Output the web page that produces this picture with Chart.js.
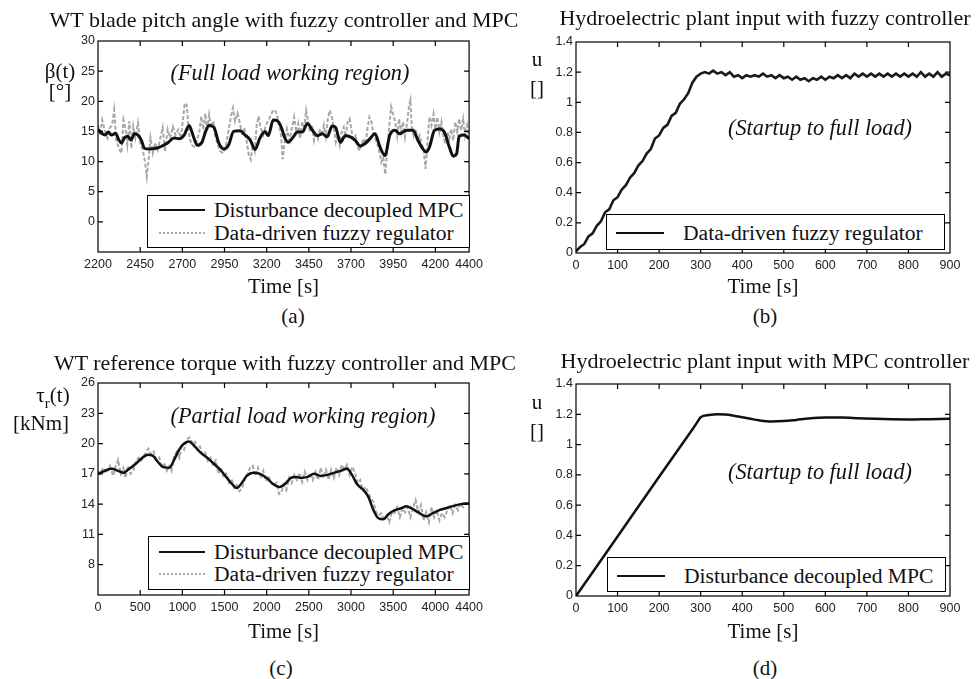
<!DOCTYPE html>
<html>
<head>
<meta charset="utf-8">
<title>WT and hydro plant controllers</title>
<script src="https://cdn.jsdelivr.net/npm/chart.js@4.4.0/dist/chart.umd.min.js"></script>
<style>
  html, body { margin: 0; padding: 0; background: #fff; }
  #page { position: relative; width: 976px; height: 679px; overflow: hidden; font-family: "Liberation Serif", "Times New Roman", serif; color: #111; }
  canvas { position: absolute; }
  .txt { position: absolute; transform: translate(-50%, -50%); white-space: nowrap; font-size: 21px; line-height: 1; z-index: 2; }
  .ttl { font-size: 22px; }
  .ital { font-style: italic; font-size: 22.3px; }
  .legend { position: absolute; border: 1px solid #000; background: #fff; box-sizing: border-box; z-index: 3; }
  .row { position: absolute; height: 24px; display: flex; align-items: center; font-size: 21.6px; white-space: nowrap; }
  .solid { display: inline-block; width: 46px; height: 0; border-top: 2.5px solid #111; }
  .dotted { display: inline-block; width: 46px; height: 0; border-top: 2px dotted #aaa; }
</style>
</head>
<body>
<div id="page">
  <canvas id="cA" width="488" height="300" style="left:0;top:0"></canvas>
  <canvas id="cB" width="488" height="300" style="left:488px;top:0"></canvas>
  <canvas id="cC" width="488" height="305" style="left:0;top:340px"></canvas>
  <canvas id="cD" width="488" height="305" style="left:488px;top:340px"></canvas>

  <!-- titles -->
  <div class="txt ttl" style="left:284px;top:20px">WT blade pitch angle with fuzzy controller and MPC</div>
  <div class="txt ttl" style="left:765px;top:18px">Hydroelectric plant input with fuzzy controller</div>
  <div class="txt ttl" style="left:285px;top:363px">WT reference torque with fuzzy controller and MPC</div>
  <div class="txt ttl" style="left:765px;top:361px">Hydroelectric plant input with MPC controller</div>

  <!-- y labels -->
  <div class="txt" style="left:60px;top:71px">β(t)</div>
  <div class="txt" style="left:60px;top:91px">[°]</div>
  <div class="txt" style="left:537px;top:59px">u</div>
  <div class="txt" style="left:537px;top:88px">[]</div>
  <div class="txt" style="left:53px;top:398px">τ<sub style="font-size:15px">r</sub>(t)</div>
  <div class="txt" style="left:41px;top:423px">[kNm]</div>
  <div class="txt" style="left:537px;top:402px">u</div>
  <div class="txt" style="left:537px;top:431px">[]</div>

  <!-- annotations -->
  <div class="txt ital" style="left:290px;top:73px">(Full load working region)</div>
  <div class="txt ital" style="left:820px;top:128px">(Startup to full load)</div>
  <div class="txt ital" style="left:303px;top:416px">(Partial load working region)</div>
  <div class="txt ital" style="left:820px;top:472px">(Startup to full load)</div>

  <!-- captions -->
  <div class="txt" style="left:293px;top:316px">(a)</div>
  <div class="txt" style="left:765px;top:316px">(b)</div>
  <div class="txt" style="left:281px;top:668px">(c)</div>
  <div class="txt" style="left:765px;top:668px">(d)</div>

  <!-- legends -->
  <div class="legend" style="left:147px;top:195px;width:323px;height:53px">
    <div class="row" style="left:11px;top:2px"><span class="solid"></span><span style="margin-left:9px">Disturbance decoupled MPC</span></div>
    <div class="row" style="left:11px;top:25px"><span class="dotted"></span><span style="margin-left:9px">Data-driven fuzzy regulator</span></div>
  </div>
  <div class="legend" style="left:606px;top:214px;width:339px;height:36px">
    <div class="row" style="left:9px;top:6px"><span class="solid" style="width:48px"></span><span style="margin-left:19px">Data-driven fuzzy regulator</span></div>
  </div>
  <div class="legend" style="left:148px;top:536px;width:322px;height:54px">
    <div class="row" style="left:10px;top:3px"><span class="solid"></span><span style="margin-left:9px">Disturbance decoupled MPC</span></div>
    <div class="row" style="left:10px;top:25px"><span class="dotted"></span><span style="margin-left:9px">Data-driven fuzzy regulator</span></div>
  </div>
  <div class="legend" style="left:607px;top:557px;width:339px;height:35px">
    <div class="row" style="left:9px;top:6px"><span class="solid" style="width:48px"></span><span style="margin-left:19px">Disturbance decoupled MPC</span></div>
  </div>
</div>

<script>
// (a) blade pitch angle, full load region
const pitchMpcTime = [2200,2222,2241,2261,2280,2304,2323,2339,2358,2378,2394,2417,2437,2456,2476,2505,2544,2574,2613,2652,2681,2711,2740,2765,2789,2818,2838,2857,2887,2916,2945,2975,3004,3043,3072,3102,3131,3160,3190,3209,3239,3262,3288,
  3305,3328,3353,3383,3412,3441,3471,3500,3530,3559,3588,3608,3637,3666,3696,3725,3754,3784,3813,3842,3872,3901,3930,3960,3989,4028,4067,4097,4126,4146,4165,4195,4224,4253,4283,4306,4326,4341,4371,4400];
const pitchMpc = [15.3,14.7,14.4,14.9,14.4,14.7,13.6,13.1,14.0,14.2,13.6,14.6,14.4,13.6,12.2,12.1,12.2,12.5,13.1,13.9,13.8,14.4,16.0,14.2,12.7,13.3,15.0,16.0,15.7,13.1,12.1,12.8,15.0,15.1,14.4,13.6,12.0,13.9,15.0,14.3,16.9,16.8,15.6,
  14.1,13.2,13.9,14.9,14.9,16.3,15.2,14.3,14.6,14.1,15.9,15.7,13.2,14.3,14.1,13.5,12.6,13.0,13.8,14.6,12.4,11.0,14.4,15.2,14.6,15.2,15.2,13.5,12.1,11.6,12.4,15.2,15.4,14.9,12.4,10.9,11.3,14.2,14.4,13.8];

const pitchFuzzyTime = [2200,2212,2225,2241,2257,2270,2284,2296,2308,2323,2339,2351,2362,2374,2386,2398,2409,2421,2437,2452,
  2466,2480,2489,2501,2511,2525,2538,2554,2570,2583,2597,2613,2628,2644,2660,2675,2691,2703,2714,2726,
  2740,2754,2769,2785,2801,2812,2824,2836,2847,2859,2871,2883,2894,2910,2926,2941,2957,2973,2988,3000,
  3012,3027,3043,3055,3067,3082,3094,3106,3117,3129,3141,3153,3164,3180,3196,3211,3227,3239,3254,3270,
  3285,3295,3305,3320,3334,3348,3363,3375,3387,3398,3410,3422,3434,3445,3457,3469,3481,3492,3504,3516,
  3528,3539,3551,3563,3574,3586,3598,3610,3621,3633,3645,3657,3668,3680,3692,3704,3715,3727,3739,3751,
  3762,3774,3786,3797,3809,3821,3833,3844,3856,3868,3880,3891,3903,3915,3927,3938,3950,3962,3974,3985,
  3997,4009,4020,4032,4044,4052,4060,4071,4083,4095,4107,4118,4130,4142,4153,4165,4177,4189,4200,4212,
  4224,4236,4247,4259,4271,4283,4294,4306,4318,4330,4341,4353,4365,4376,4388,4400];
const pitchFuzzy = [16.1,14.4,16.9,15.0,13.9,15.6,16.1,18.6,13.6,12.2,11.4,16.9,15.6,12.8,16.7,12.2,15.8,13.9,16.4,12.8,
  11.9,9.7,7.5,10.6,13.9,11.4,13.1,11.9,13.9,15.6,11.7,15.3,13.9,15.8,14.4,15.3,13.9,16.7,19.7,19.4,
  14.4,12.8,12.5,13.3,15.0,17.5,15.3,18.0,15.0,17.8,15.6,16.7,14.4,12.8,11.7,11.4,12.5,15.0,17.5,18.9,
  16.7,18.0,16.1,14.4,15.6,13.3,11.1,10.3,12.8,11.7,16.1,17.5,15.6,14.4,16.1,16.9,17.8,18.6,18.3,16.7,
  14.3,10.4,12.9,15.4,13.5,15.4,17.4,14.9,16.3,13.8,16.6,15.4,18.5,16.8,14.9,16.0,13.5,14.9,13.8,15.4,
  14.3,16.0,14.1,17.1,18.5,17.4,15.4,13.2,14.3,12.7,14.9,15.7,14.1,16.6,17.1,14.9,13.8,14.3,12.4,11.8,
  12.7,13.8,12.9,15.4,17.4,16.6,14.6,13.8,12.9,11.6,9.9,10.7,7.9,12.1,16.0,19.1,17.9,16.6,14.3,17.1,
  14.9,16.6,14.1,16.3,19.3,20.2,16.0,14.3,15.4,13.5,14.3,12.9,12.1,8.8,13.2,17.4,16.0,17.9,15.4,17.4,
  14.9,16.6,14.3,12.9,14.9,13.8,15.4,13.5,16.6,14.9,17.1,15.2,17.1,14.3,16.0,13.8];

const pitchXTicks = [2200,2450,2700,2950,3200,3450,3700,3950,4200,4400];
const pitchYTicks = [0,5,10,15,20,25,30];

// (b) hydro input with fuzzy controller
const hydroFuzzyTime = [0,10,20,30,40,50,60,70,80,90,100,110,120,130,140,150,160,170,180,190,200,210,220,230,240,250,260,270,280,290,
  300,310,320,330,340,350,360,370,380,390,400,410,420,430,440,450,460,470,480,490,500,510,520,530,540,550,560,570,580,590,
  600,610,620,630,640,650,660,670,680,690,700,710,720,730,740,750,760,770,780,790,800,810,820,830,840,850,860,870,880,890,900];
const hydroFuzzy = [0.01,0.04,0.06,0.11,0.13,0.18,0.21,0.27,0.29,0.35,0.37,0.42,0.45,0.50,0.53,0.58,0.61,0.66,0.69,0.76,0.78,0.83,0.85,0.91,0.93,0.99,1.02,1.06,1.13,1.17,
  1.19,1.20,1.19,1.21,1.19,1.20,1.18,1.20,1.17,1.18,1.16,1.18,1.17,1.18,1.17,1.19,1.17,1.18,1.16,1.18,1.16,1.17,1.15,1.17,1.15,1.16,1.14,1.16,1.15,1.17,
  1.15,1.17,1.16,1.18,1.16,1.18,1.16,1.19,1.17,1.19,1.17,1.19,1.17,1.19,1.17,1.19,1.17,1.19,1.17,1.19,1.17,1.19,1.17,1.20,1.17,1.19,1.17,1.20,1.17,1.19,1.18];

const hydroXTicks = [0,100,200,300,400,500,600,700,800,900];
const hydroYTicks = [0,0.2,0.4,0.6,0.8,1,1.2,1.4];

// (c) reference torque, partial load region
const torqueMpcTime = [0,82,160,238,297,356,434,512,590,649,708,767,845,903,962,1021,1079,1138,1216,1295,1373,1451,1529,1588,1647,1705,1764,1842,1920,1999,2077,2155,
  2229,2288,2347,2405,2484,2562,2640,2718,2796,2875,2953,3011,3070,3148,3207,3266,3324,3383,3442,3520,3598,3657,3715,3794,3891,3970,4048,4126,4204,4302,4400];
const torqueMpc = [17.0,17.3,17.5,17.3,17.1,17.4,17.9,18.5,18.9,18.8,18.2,17.7,17.6,18.4,19.4,20.0,20.2,19.8,19.1,18.6,18.0,17.4,16.6,16.0,15.6,16.1,16.8,17.1,17.0,16.6,16.0,15.7,
  16.1,16.6,16.7,16.6,16.7,17.0,16.8,16.9,17.1,17.3,17.5,16.9,16.0,15.4,14.7,13.4,12.6,12.5,13.0,13.4,13.6,13.8,13.6,13.2,12.8,13.1,13.4,13.6,13.8,14.0,14.1];

const torqueFuzzyTime = [0,23,62,102,141,180,207,238,270,301,325,356,387,418,450,481,512,544,575,598,
  630,661,692,727,755,786,817,849,872,903,935,966,990,1021,1052,1083,1115,1146,1177,1208,
  1240,1271,1302,1334,1365,1396,1427,1459,1490,1521,1553,1584,1615,1647,1678,1709,1740,1772,1803,1834,
  1865,1897,1928,1959,1991,2022,2053,2084,2116,2147,
  2171,2202,2233,2265,2296,2327,2358,2390,2421,2452,2484,2515,2546,2577,2609,2640,2671,2703,2734,2765,
  2796,2828,2859,2890,2921,2953,2984,3015,3047,3078,3109,3140,3172,3203,3234,3266,3297,3328,3360,3391,
  3422,3453,3485,3516,3547,3579,3610,3641,3672,3704,3735,3766,3798,3829,3860,3891,3923,3954,3985,4017,
  4048,4079,4110,4142,4173,4204,4236,4267,4298,4329,4361,4400];
const torqueFuzzy = [17.3,17.0,17.6,17.1,17.8,16.8,17.7,18.4,17.0,17.6,16.6,17.8,17.0,17.3,18.3,18.6,18.3,18.8,19.2,19.5,
  18.9,19.2,18.4,18.6,17.6,18.1,17.3,17.8,17.3,18.8,19.2,18.6,19.7,19.4,20.4,20.6,20.1,20.3,19.4,19.7,
  18.9,19.1,18.3,18.6,17.8,18.3,17.0,17.6,16.6,17.0,16.1,16.5,15.6,15.9,15.3,15.6,16.5,17.0,17.6,17.8,
  16.8,17.6,16.6,17.3,16.3,16.8,16.1,15.8,16.1,15.0,
  15.1,15.9,15.4,16.6,16.1,16.9,16.4,17.1,16.2,17.2,16.4,17.1,16.4,17.2,16.4,17.6,16.6,17.4,16.4,17.4,
  16.6,17.6,16.9,17.9,17.4,17.9,16.9,17.7,17.1,16.1,16.4,15.4,15.7,15.2,14.6,14.2,13.2,12.9,13.1,12.4,
  12.9,12.2,13.2,13.1,13.7,12.7,13.6,13.2,13.7,12.7,13.6,14.4,13.2,13.9,12.4,13.2,12.2,13.7,12.7,13.4,
  12.4,13.1,12.7,13.4,13.9,13.1,13.9,13.4,14.1,13.7,14.1,14.0];

const torqueXTicks = [0,500,1000,1500,2000,2500,3000,3500,4000,4400];
const torqueYTicks = [8,11,14,17,20,23,26];

// (d) hydro input with MPC
const hydroMpcTime = [0,100,200,280,290,300,320,340,360,380,400,420,440,470,500,530,560,600,640,680,720,760,800,850,900];
const hydroMpc = [0,0.393,0.787,1.10,1.14,1.18,1.195,1.2,1.198,1.19,1.18,1.17,1.16,1.152,1.155,1.163,1.172,1.178,1.178,1.174,1.17,1.167,1.166,1.168,1.17];


Chart.defaults.font.family = '"Liberation Sans", Arial, sans-serif';
Chart.defaults.color = '#222';

// box round the plot area with inward tick marks (matlab style)
const framePlugin = {
  id: 'frame',
  afterDatasetsDraw(chart) {
    const {ctx, chartArea: a, scales} = chart;
    ctx.save();
    ctx.strokeStyle = '#000';
    ctx.lineWidth = 1.2;
    ctx.strokeRect(a.left, a.top, a.right - a.left, a.bottom - a.top);
    ctx.beginPath();
    scales.x.ticks.forEach(t => {
      const px = scales.x.getPixelForValue(t.value);
      if (px <= a.left + 1 || px >= a.right - 1) return;
      ctx.moveTo(px, a.bottom); ctx.lineTo(px, a.bottom - 5);
      ctx.moveTo(px, a.top); ctx.lineTo(px, a.top + 5);
    });
    scales.y.ticks.forEach(t => {
      const py = scales.y.getPixelForValue(t.value);
      if (py <= a.top + 1 || py >= a.bottom - 1) return;
      ctx.moveTo(a.left, py); ctx.lineTo(a.left + 5, py);
      ctx.moveTo(a.right, py); ctx.lineTo(a.right - 5, py);
    });
    ctx.stroke();
    ctx.restore();
  }
};

function pts(xs, ys) {
  return xs.map((x, i) => ({x: x, y: ys[i]}));
}

function makePanel(id, p) {
  return new Chart(document.getElementById(id), {
    type: 'line',
    data: { datasets: p.datasets },
    options: {
      responsive: false,
      animation: false,
      events: [],
      layout: { padding: { top: p.top, right: p.right, left: 0, bottom: 0 } },
      plugins: { legend: { display: false }, tooltip: { enabled: false } },
      elements: { point: { radius: 0 } },
      scales: {
        x: {
          type: 'linear', min: p.xMin, max: p.xMax,
          afterBuildTicks: s => { s.ticks = p.xTicks.map(v => ({value: v})); },
          afterFit: s => { s.height = p.xHeight; },
          grid: { display: false, drawTicks: false },
          border: { display: false },
          ticks: { autoSkip: false, maxRotation: 0, padding: 5, font: { size: 12.5 }, callback: v => String(v) },
          title: { display: true, text: 'Time [s]', color: '#111', padding: 0,
                   font: { family: '"Liberation Serif", "Times New Roman", serif', size: 21 } }
        },
        y: {
          type: 'linear', min: p.yMin, max: p.yMax,
          afterBuildTicks: s => { s.ticks = p.yTicks.map(v => ({value: v})); },
          afterFit: s => { s.width = p.yWidth; },
          grid: { display: false, drawTicks: false },
          border: { display: false },
          ticks: { padding: 3, font: { size: 12.5 }, callback: v => String(v) }
        }
      }
    },
    plugins: [framePlugin]
  });
}

makePanel('cA', {
  top: 41, right: 15, yWidth: 98, xHeight: 48,
  xMin: 2200, xMax: 4400, yMin: -5, yMax: 30, xTicks: pitchXTicks, yTicks: pitchYTicks,
  datasets: [
    { label: 'Disturbance decoupled MPC', data: pts(pitchMpcTime, pitchMpc), borderColor: '#111', borderWidth: 3, cubicInterpolationMode: 'monotone' },
    { label: 'Data-driven fuzzy regulator', data: pts(pitchFuzzyTime, pitchFuzzy), borderColor: '#a8a8a8', borderWidth: 2, borderDash: [4, 2], tension: 0 }
  ]
});

makePanel('cB', {
  top: 42, right: 26, yWidth: 88, xHeight: 47,
  xMin: 0, xMax: 900, yMin: 0, yMax: 1.4, xTicks: hydroXTicks, yTicks: hydroYTicks,
  datasets: [
    { label: 'Data-driven fuzzy regulator', data: pts(hydroFuzzyTime, hydroFuzzy), borderColor: '#1a1a1a', borderWidth: 2.6, tension: 0 }
  ]
});

makePanel('cC', {
  top: 43, right: 15, yWidth: 98, xHeight: 50,
  xMin: 0, xMax: 4400, yMin: 5, yMax: 26, xTicks: torqueXTicks, yTicks: torqueYTicks,
  datasets: [
    { label: 'Disturbance decoupled MPC', data: pts(torqueMpcTime, torqueMpc), borderColor: '#111', borderWidth: 2.5, cubicInterpolationMode: 'monotone' },
    { label: 'Data-driven fuzzy regulator', data: pts(torqueFuzzyTime, torqueFuzzy), borderColor: '#a8a8a8', borderWidth: 2, borderDash: [4, 2], tension: 0 }
  ]
});

makePanel('cD', {
  top: 44, right: 26, yWidth: 88, xHeight: 49,
  xMin: 0, xMax: 900, yMin: 0, yMax: 1.4, xTicks: hydroXTicks, yTicks: hydroYTicks,
  datasets: [
    { label: 'Disturbance decoupled MPC', data: pts(hydroMpcTime, hydroMpc), borderColor: '#111', borderWidth: 2.5, cubicInterpolationMode: 'monotone' }
  ]
});
</script>
</body>
</html>
